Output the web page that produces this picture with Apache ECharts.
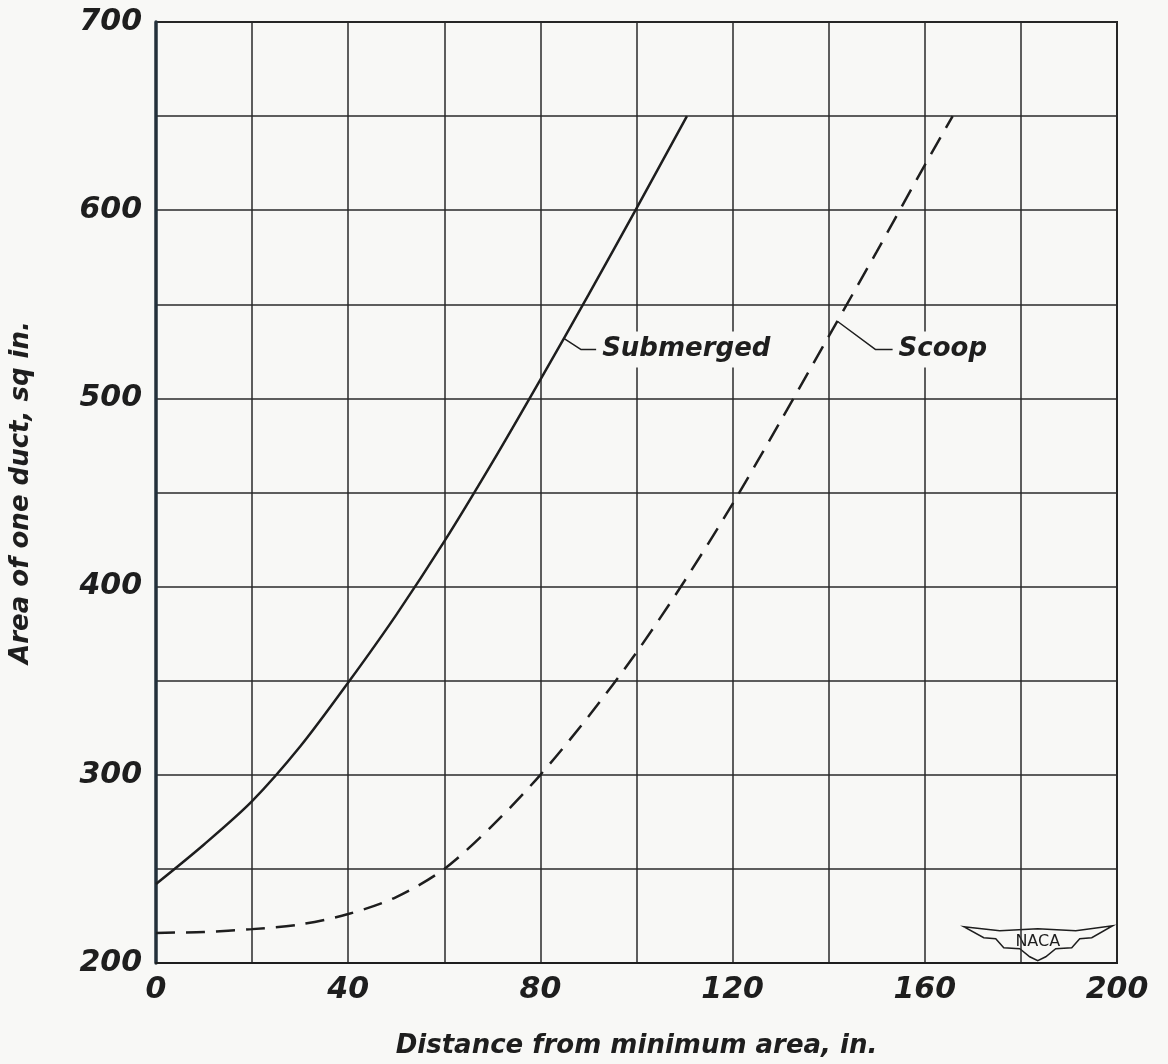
<!DOCTYPE html>
<html>
<head>
<meta charset="utf-8">
<script src="https://cdn.jsdelivr.net/npm/echarts@6/dist/echarts.min.js"></script>
<style>
  html, body { margin: 0; padding: 0; background: #f8f8f6; }
  #container { width: 1168px; height: 1064px; }
</style>
</head>
<body>
<div id="container"></div>
<script>
// distance from minimum area (in.) and area of one duct (sq in.)
var submergedX = [0, 10, 20, 30, 40, 50, 60, 70, 80, 90, 100, 110.5];
var submergedY = [242, 263, 286, 315, 349, 385, 424, 466, 510, 555, 601, 650];
var scoopX = [0, 10, 20, 30, 40, 50, 60, 70, 80, 90, 100, 110, 120, 130, 140, 150, 160, 165.8];
var scoopY = [216, 216.5, 218, 220.5, 226, 235, 250, 273, 300, 331, 365, 403, 444, 488, 533, 578, 624, 650];

// leader lines for the curve labels (data units)
var submergedLeaderX = [84.8, 88.4, 91.6];
var submergedLeaderY = [532, 526, 526];
var scoopLeaderX = [141.8, 149.7, 153.3];
var scoopLeaderY = [541, 526, 526];

var xTickLabels = [0, 40, 80, 120, 160, 200];
var yTickLabels = [200, 300, 400, 500, 600, 700];

var ink = '#1e1e1e';
var bg = '#f8f8f6';
var fontFamily = 'DejaVu Sans';

function pairs(xs, ys) {
  return xs.map(function (x, i) { return [x, ys[i]]; });
}

function leader(xs, ys, text) {
  var d = pairs(xs, ys).map(function (p) { return { value: p }; });
  d[d.length - 1].label = {
    show: true,
    formatter: text,
    position: 'right',
    distance: 2,
    color: ink,
    fontFamily: fontFamily,
    fontStyle: 'italic',
    fontWeight: 'bold',
    fontSize: 26,
    backgroundColor: bg,
    padding: [6, 4, 4, 4]
  };
  return {
    type: 'line',
    data: d,
    symbol: 'circle',
    symbolSize: 0,
    showSymbol: true,
    silent: true,
    z: 5,
    lineStyle: { color: ink, width: 1.5 },
    label: { show: false }
  };
}

var myChart = echarts.init(document.getElementById('container'));

var option = {
  backgroundColor: bg,
  animation: false,
  grid: {
    left: 155, right: 51, top: 22, bottom: 91,
    show: true, borderColor: ink, borderWidth: 2, backgroundColor: 'transparent'
  },
  xAxis: {
    type: 'value', min: 0, max: 200, interval: 20,
    name: 'Distance from minimum area, in.',
    nameLocation: 'middle', nameGap: 70,
    nameTextStyle: { color: ink, fontFamily: fontFamily, fontStyle: 'italic', fontWeight: 'bold', fontSize: 26 },
    axisLine: { show: true, lineStyle: { color: ink, width: 2 } },
    axisTick: { show: false },
    axisLabel: {
      color: ink, fontFamily: fontFamily, fontStyle: 'italic', fontWeight: 'bold', fontSize: 30, margin: 12,
      formatter: function (v) { return xTickLabels.indexOf(v) >= 0 ? String(v) : ''; }
    },
    splitLine: { show: true, lineStyle: { color: '#2a2a2a', width: 1.5 } }
  },
  yAxis: {
    type: 'value', min: 200, max: 700, interval: 50,
    name: 'Area of one duct, sq in.',
    nameLocation: 'middle', nameGap: 122, nameRotate: 90,
    nameTextStyle: { color: ink, fontFamily: fontFamily, fontStyle: 'italic', fontWeight: 'bold', fontSize: 26 },
    axisLine: { show: true, lineStyle: { color: '#23303a', width: 3.5 } },
    axisTick: { show: false },
    axisLabel: {
      color: ink, fontFamily: fontFamily, fontStyle: 'italic', fontWeight: 'bold', fontSize: 30, margin: 14,
      formatter: function (v) { return yTickLabels.indexOf(v) >= 0 ? String(v) : ''; }
    },
    splitLine: { show: true, lineStyle: { color: '#2a2a2a', width: 1.5 } }
  },
  series: [
    {
      name: 'Submerged', type: 'line',
      data: pairs(submergedX, submergedY),
      showSymbol: false, smooth: 0.3, z: 4,
      lineStyle: { color: ink, width: 2.5 }
    },
    {
      name: 'Scoop', type: 'line',
      data: pairs(scoopX, scoopY),
      showSymbol: false, smooth: 0.3, z: 4,
      lineStyle: { color: ink, width: 2.5, type: [19, 11] }
    },
    leader(submergedLeaderX, submergedLeaderY, 'Submerged'),
    leader(scoopLeaderX, scoopLeaderY, 'Scoop')
  ],
  graphic: [
    {
      type: 'group', left: 963, top: 925, z: 10,
      children: [
        {
          type: 'polygon',
          shape: { points: [[0, 3], [36, 7], [74, 5], [112, 7], [149, 2], [128, 14], [116, 15], [108, 24], [92, 25], [82, 33], [74, 37], [66, 33], [56, 25], [40, 24], [32, 15], [20, 14]] },
          style: { fill: bg, stroke: ink, lineWidth: 1.5 }
        },
        {
          type: 'text', x: 74, y: 18,
          style: { text: 'NACA', fill: ink, font: '16px "DejaVu Sans"', textAlign: 'center', textVerticalAlign: 'middle' }
        }
      ]
    }
  ]
};

option && myChart.setOption(option);
</script>
</body>
</html>
